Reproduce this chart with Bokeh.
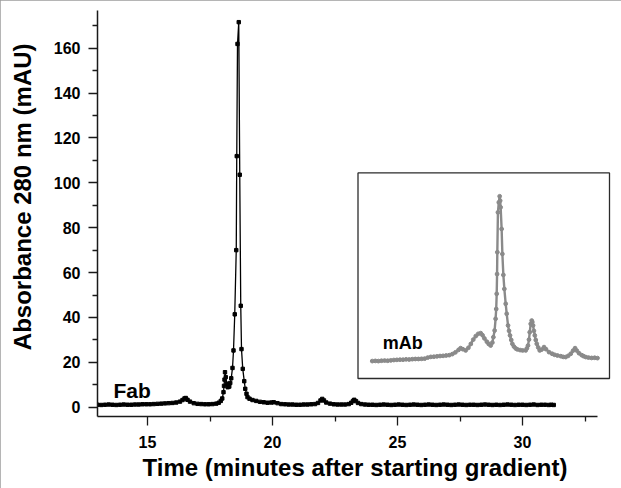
import math
from bokeh.plotting import figure
from bokeh.models import Range1d, FixedTicker, Label, BoxAnnotation
from bokeh.embed import file_html
from bokeh.resources import INLINE

# ---------------- data ----------------
# Fab chromatogram (main plot): time in minutes, absorbance in mAU
fab_time = [
    13.0, 13.15, 13.3, 13.45, 13.6, 13.75, 13.9, 14.05, 14.2, 14.35, 14.5, 14.65, 14.8, 14.95,
    15.1, 15.25, 15.4, 15.55, 15.7, 15.85, 16.0, 16.15, 16.3, 16.4, 16.48, 16.53, 16.6, 16.7,
    16.85, 17.0, 17.15, 17.3, 17.45, 17.6, 17.75, 17.85, 17.93, 17.99, 18.04, 18.06, 18.08,
    18.1, 18.13, 18.17, 18.21, 18.27, 18.31, 18.35, 18.40, 18.44, 18.49, 18.55, 18.57, 18.60,
    18.65, 18.69, 18.73, 18.76, 18.81, 18.87, 18.91, 18.96, 19.0, 19.08, 19.2, 19.35, 19.5,
    19.65, 19.8, 19.95, 20.05, 20.2, 20.35, 20.5, 20.65, 20.8, 20.95, 21.1, 21.25, 21.4, 21.55,
    21.7, 21.82, 21.92, 21.99, 22.06, 22.15, 22.3, 22.45, 22.6, 22.75, 22.9, 23.05, 23.15,
    23.22, 23.27, 23.34, 23.42, 23.55, 23.7, 23.85, 24.0, 24.15, 24.3, 24.45, 24.6, 24.75,
    24.9, 25.05, 25.2, 25.35, 25.5, 25.65, 25.8, 25.95, 26.1, 26.25, 26.4, 26.55, 26.7, 26.85,
    27.0, 27.15, 27.3, 27.45, 27.6, 27.75, 27.9, 28.05, 28.2, 28.35, 28.5, 28.65, 28.8, 28.95,
    29.1, 29.25, 29.4, 29.55, 29.7, 29.85, 30.0, 30.15, 30.3, 30.45, 30.6, 30.75, 30.9, 31.05,
    31.15, 31.25,
]
fab_abs = [
    1.1, 1.0, 1.1, 1.2, 1.1, 1.0, 1.1, 1.2, 1.1, 1.1, 1.2, 1.2, 1.3, 1.3,
    1.3, 1.4, 1.5, 1.6, 1.7, 1.8, 1.9, 2.1, 2.5, 3.2, 3.9, 4.1, 3.3, 2.5,
    1.8, 1.5, 1.4, 1.3, 1.3, 1.4, 1.6, 2.0, 2.8, 3.9, 6.7, 9.5, 12.3,
    15.6, 13.4, 10.5, 8.9, 9.2, 10.8, 12.9, 17.5, 25.3, 41.4, 70.0, 111.9, 161.9,
    171.6, 103.6, 45.2, 25.9, 17.1, 11.6, 8.2, 6.0, 4.5, 3.8, 3.2, 2.8, 2.4,
    2.2, 2.0, 2.1, 2.2, 1.8, 1.4, 1.3, 1.2, 1.2, 1.1, 1.1, 1.2, 1.2, 1.3,
    1.4, 1.9, 3.0, 3.7, 3.0, 2.1, 1.6, 1.3, 1.2, 1.2, 1.2, 1.4, 2.0,
    2.8, 3.3, 2.7, 1.9, 1.4, 1.2, 1.1, 1.1, 1.0, 1.1, 1.2, 1.1, 1.0,
    1.1, 1.2, 1.1, 1.0, 1.1, 1.2, 1.1, 1.0, 1.1, 1.2, 1.1, 1.0, 1.1, 1.2,
    1.1, 1.0, 1.1, 1.2, 1.1, 1.0, 1.1, 1.1, 1.0, 1.1, 1.2, 1.1, 1.0, 1.1,
    1.0, 1.1, 1.2, 1.1, 1.0, 1.1, 1.1, 1.0, 1.1, 1.2, 1.0, 1.1, 1.1, 1.0,
    1.1, 1.0,
]

# mAb chromatogram (inset, no axes): its own time / absorbance units
mab_time = [
    13.0, 13.25, 13.5, 13.75, 14.0, 14.25, 14.5, 14.75, 15.0, 15.25, 15.5, 15.75, 16.0, 16.25,
    16.5, 16.75, 17.0, 17.25, 17.5, 17.75, 18.0, 18.25, 18.5, 18.75, 19.0, 19.25, 19.5, 19.75,
    20.0, 20.17, 20.35, 20.58, 20.8, 21.0, 21.2, 21.4, 21.6, 21.8, 21.95, 22.1, 22.3, 22.45,
    22.61, 22.75, 22.83, 22.93, 23.01, 23.06, 23.10, 23.13, 23.15, 23.20, 23.27, 23.34, 23.38,
    23.42, 23.50, 23.56, 23.64, 23.72, 23.83, 23.91, 24.02, 24.10, 24.18, 24.28, 24.37, 24.5,
    24.65, 24.78, 25.0, 25.2, 25.45, 25.55, 25.64, 25.72, 25.78, 25.86, 25.94, 25.99, 26.05,
    26.12, 26.19, 26.27, 26.35, 26.47, 26.59, 26.75, 26.94, 27.1, 27.35, 27.6, 27.8, 28.03,
    28.3, 28.5, 28.7, 28.9, 29.11, 29.3, 29.46, 29.6, 29.78, 30.0, 30.15, 30.33, 30.55, 30.8,
    31.05, 31.28,
]
mab_abs = [
    0.2, 0.3, 0.2, 0.4, 0.5, 0.4, 0.6, 0.8, 0.9, 1.0, 1.0, 1.2, 1.1, 1.3,
    1.4, 1.4, 1.5, 1.6, 2.2, 2.6, 2.7, 2.9, 3.1, 3.2, 3.4, 3.6, 4.2, 5.2,
    6.6, 7.6, 7.0, 6.3, 7.8, 10.0, 12.5, 14.5, 15.8, 16.2, 15.0, 13.2, 11.3, 10.0,
    9.1, 10.8, 13.9, 17.7, 24.4, 30.0, 38.7, 50.0, 62.5, 85.3, 91.0, 94.5, 92.0,
    88.2, 75.8, 61.5, 49.5, 41.5, 33.0, 27.3, 20.6, 17.5, 14.9, 12.3, 10.1, 8.5,
    7.4, 6.9, 6.5, 6.3, 6.3, 7.5, 9.1, 12.5, 16.7, 21.5, 23.4, 22.5, 20.6,
    17.5, 14.9, 12.3, 10.1, 8.0, 6.3, 6.8, 8.2, 7.0, 5.3, 4.4, 3.8, 3.4,
    3.0, 2.6, 2.5, 3.2, 4.4, 6.2, 7.6, 6.2, 4.7, 3.6, 3.0, 2.5, 2.2, 2.0,
    2.1, 1.9,
]

x_major = [15, 20, 25, 30]
x_minor = [17.5, 22.5, 27.5, 32.5]
y_major = [0, 20, 40, 60, 80, 100, 120, 140, 160]
y_minor = [10, 30, 50, 70, 90, 110, 130, 150, 170]

x_title = "Time (minutes after starting gradient)"
y_title = "Absorbance 280 nm (mAU)"
fab_name = "Fab"
mab_name = "mAb"

# ---------------- layout constants ----------------
FONT = "Liberation Sans"
X0, X1 = 13.0, 33.6
Y0, Y1 = -4.14, 176.8
AXIS_X_END = 33.0
NBSP = "\u00a0"

# inset placement (in main-plot data coordinates)
BOX = dict(left=23.42, right=33.48, bottom=12.8, top=104.4)
# inset data window [13, 31.28] x [0, 94.5] mapped onto main coords
IN_X = (13.0, 31.28, 23.99, 33.0)
IN_Y = (0.0, 94.5, 20.4, 94.0)


def inset_range(spec, s, e):
    a, b, c, d = spec
    k = (d - c) / (b - a)
    return Range1d(a + (s - c) / k, a + (e - c) / k)


p = figure(width=621, height=488,
           x_range=Range1d(X0, X1), y_range=Range1d(Y0, Y1),
           output_backend="svg", toolbar_location=None,
           min_border_left=97, min_border_right=9,
           min_border_top=10, min_border_bottom=72)
p.styles = {"outline": "2px solid #9c9c9c", "outline-offset": "-2px"}
p.extra_x_ranges = {"ix": inset_range(IN_X, X0, X1)}
p.extra_y_ranges = {"iy": inset_range(IN_Y, Y0, Y1)}

p.grid.visible = False
p.outline_line_color = None
p.background_fill_color = "white"
p.border_fill_color = "white"

for ax in (p.xaxis[0], p.yaxis[0]):
    ax.axis_line_color = "#1a1a1a"
    ax.axis_line_width = 1.5
    ax.major_tick_line_color = "#1a1a1a"
    ax.minor_tick_line_color = "#1a1a1a"
    ax.major_tick_line_width = 1.3
    ax.minor_tick_line_width = 1.3
    ax.major_tick_in = 0
    ax.major_tick_out = 9
    ax.minor_tick_in = 0
    ax.minor_tick_out = 5
    ax.major_label_text_font = FONT
    ax.major_label_text_font_style = "bold"
    ax.major_label_text_font_size = "16px"
    ax.major_label_text_color = "black"
    ax.axis_label_text_font = FONT
    ax.axis_label_text_font_style = "bold"
    ax.axis_label_text_font_size = "24px"
    ax.axis_label_text_color = "black"

p.xaxis[0].ticker = FixedTicker(ticks=x_major, minor_ticks=x_minor)
p.yaxis[0].ticker = FixedTicker(ticks=y_major, minor_ticks=y_minor)
p.xaxis[0].bounds = (X0, AXIS_X_END)
p.xaxis[0].major_label_standoff = 10
p.yaxis[0].major_label_standoff = 8
p.xaxis[0].axis_label = x_title
p.xaxis[0].axis_label_standoff = 3
# leading no-break spaces lift the rotated title to where the reference has it
p.yaxis[0].axis_label = NBSP * 5 + y_title
p.yaxis[0].axis_label_standoff = 15

# main Fab trace
p.line(fab_time, fab_abs, line_color="black", line_width=1.3)
p.scatter(fab_time, fab_abs, marker="square", size=3.4,
          fill_color="black", line_color="black")

# inset box + mAb trace
p.add_layout(BoxAnnotation(left=BOX["left"], right=BOX["right"],
                           bottom=BOX["bottom"], top=BOX["top"],
                           fill_alpha=0, fill_color=None,
                           line_color="#2b2b2b", line_alpha=1.0, line_width=1.3))
p.line(mab_time, mab_abs, x_range_name="ix", y_range_name="iy",
       line_color="#8a8a8a", line_width=2.4)
p.scatter(mab_time, mab_abs, x_range_name="ix", y_range_name="iy",
          marker="circle", size=3.8, fill_color="#8a8a8a", line_color="#8a8a8a")

# texts
p.add_layout(Label(x=13.64, y=7.5, text=fab_name, text_font=FONT,
                   text_font_style="bold", text_font_size="21px",
                   text_baseline="alphabetic", text_align="left", text_color="black"))
p.add_layout(Label(x=24.41, y=28.7, text=mab_name, text_font=FONT,
                   text_font_style="bold", text_font_size="18px",
                   text_baseline="alphabetic", text_align="left", text_color="black"))

open("out.html", "w").write(file_html(p, INLINE))
